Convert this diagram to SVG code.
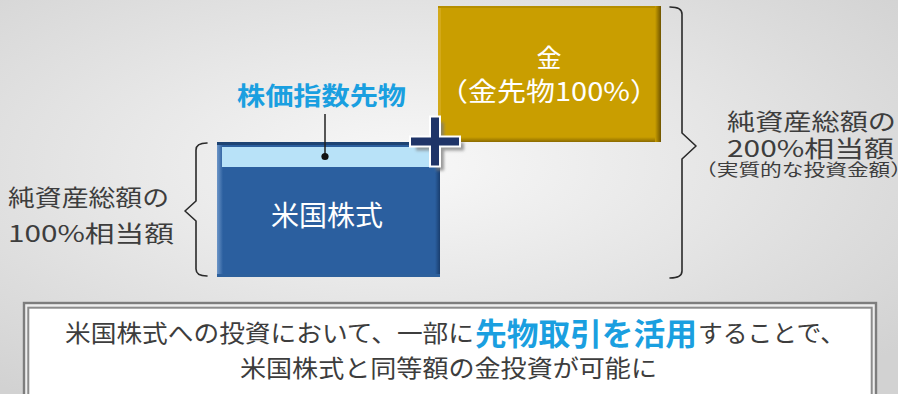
<svg xmlns="http://www.w3.org/2000/svg" width="898" height="394" viewBox="0 0 898 394">
<defs>
<radialGradient id="bg" cx="0.45" cy="0.42" r="0.72">
<stop offset="0" stop-color="#f8f8f8"/>
<stop offset="1" stop-color="#d2d2d2"/>
</radialGradient>
<linearGradient id="blueL" x1="0" x2="1" y1="0" y2="0"><stop offset="0" stop-color="#6d96c8"/><stop offset="1" stop-color="#2b5f9f"/></linearGradient>
<linearGradient id="blueR" x1="0" x2="1" y1="0" y2="0"><stop offset="0" stop-color="#2b5f9f"/><stop offset="1" stop-color="#193d6d"/></linearGradient>
<linearGradient id="goldR" x1="0" x2="1" y1="0" y2="0"><stop offset="0" stop-color="#c99e00"/><stop offset="1" stop-color="#6e5400"/></linearGradient>
<linearGradient id="goldB" x1="0" x2="0" y1="0" y2="1"><stop offset="0" stop-color="#c99e00"/><stop offset="1" stop-color="#8a6a00"/></linearGradient>
<filter id="blur" x="-20%" y="-20%" width="140%" height="140%"><feGaussianBlur stdDeviation="1.6"/></filter>
<style>
.jp{font-family:"Noto Sans CJK JP","Noto Sans",sans-serif;font-weight:400;}
.gray{fill:#3d3d3d;}
.white{fill:#ffffff;}
.blue{fill:#1a9fe0;font-weight:bold;}
.brace{fill:none;stroke:#2a2a2a;stroke-width:1.6;stroke-linejoin:round;stroke-linecap:round}
</style>
</defs>
<rect x="0" y="0" width="898" height="394" fill="url(#bg)"/>

<g id="brace-left">
<path class="brace" d="M207,143 Q196,143 196,150 L196,201 L185,211 L196,221 L196,269 Q196,276 207,276"/>
</g>
<g id="brace-right">
<path class="brace" d="M670,7 Q682,7 682,14 L682,133 L696,146 L682,159 L682,271 Q682,278 670,278"/>
</g>

<g id="node-gold">
<rect x="438" y="6" width="223" height="136" fill="#c99e00"/>
<rect x="438" y="6" width="3" height="136" fill="#d3a91a"/>
<rect x="438" y="6" width="223" height="2" fill="#b58e00"/>
<rect x="438" y="137" width="223" height="5" fill="url(#goldB)"/>
<rect x="655" y="6" width="6" height="136" fill="url(#goldR)"/>
<text class="jp white" x="549" y="67" font-size="25" text-anchor="middle">金</text>
<text class="jp white" x="549" y="100.5" font-size="26" text-anchor="middle" textLength="220" lengthAdjust="spacingAndGlyphs">（金先物100%）</text>
</g>

<g id="node-us-stocks">
<rect x="217" y="142" width="223" height="135" fill="#2b5f9f"/>
<rect x="217" y="142" width="6" height="135" fill="url(#blueL)"/>
<rect x="435" y="142" width="5" height="135" fill="url(#blueR)"/>
<rect x="217" y="142" width="223" height="3" fill="#1d4373"/>
<rect x="217" y="274" width="223" height="3" fill="#2d609c"/>
<rect x="222" y="147" width="214" height="20" fill="#b8e2f8"/>
<text class="jp white" x="327" y="225.5" font-size="28" text-anchor="middle" textLength="112" lengthAdjust="spacingAndGlyphs">米国株式</text>
</g>

<g id="node-index-futures">
<text class="jp blue" x="237" y="105" font-size="25" textLength="169" lengthAdjust="spacingAndGlyphs">株価指数先物</text>
</g>

<g id="connectors">
<line x1="325" y1="114" x2="325" y2="156.5" stroke="#222" stroke-width="1.5"/>
<circle cx="325" cy="156.5" r="3.6" fill="#111"/>
</g>

<g id="node-plus">
<path d="M431,117.5 h8 v20 h20 v8 h-20 v20 h-8 v-20 h-20 v-8 h20 z" transform="translate(5,5)" fill="#7c7c7c" opacity="0.75" filter="url(#blur)"/>
<path d="M431,117.5 h8 v20 h20 v8 h-20 v20 h-8 v-20 h-20 v-8 h20 z" fill="#1f3468" stroke="#ffffff" stroke-width="4" paint-order="stroke" stroke-linejoin="miter"/>
</g>

<g id="label-left">
<text class="jp gray" x="8" y="205.5" font-size="23" textLength="161" lengthAdjust="spacingAndGlyphs">純資産総額の</text>
<text class="jp gray" x="8" y="241.5" font-size="23" textLength="166" lengthAdjust="spacingAndGlyphs">100%相当額</text>
</g>

<g id="label-right">
<text class="jp gray" x="727" y="130" font-size="23" textLength="169" lengthAdjust="spacingAndGlyphs">純資産総額の</text>
<text class="jp gray" x="727" y="157" font-size="23" textLength="167" lengthAdjust="spacingAndGlyphs">200%相当額</text>
<text class="jp gray" x="695" y="175.5" font-size="16.5" textLength="217" lengthAdjust="spacingAndGlyphs">（実質的な投資金額）</text>
</g>

<g id="node-summary">
<rect x="24" y="303" width="852" height="100" fill="#eeeeee" stroke="#7d7d7d" stroke-width="2.4"/>
<rect x="28.3" y="307.7" width="843.4" height="100" fill="#ffffff" stroke="#8c8c8c" stroke-width="2"/>
<text class="jp gray" x="65" y="342" font-size="24" textLength="409" lengthAdjust="spacingAndGlyphs">米国株式への投資において、一部に</text>
<text class="jp blue" x="475" y="344.5" font-size="31" textLength="222" lengthAdjust="spacingAndGlyphs">先物取引を活用</text>
<text class="jp gray" x="698" y="342" font-size="24" textLength="147" lengthAdjust="spacingAndGlyphs">することで、</text>
<text class="jp gray" x="240" y="376.5" font-size="24" textLength="417" lengthAdjust="spacingAndGlyphs">米国株式と同等額の金投資が可能に</text>
</g>
</svg>
